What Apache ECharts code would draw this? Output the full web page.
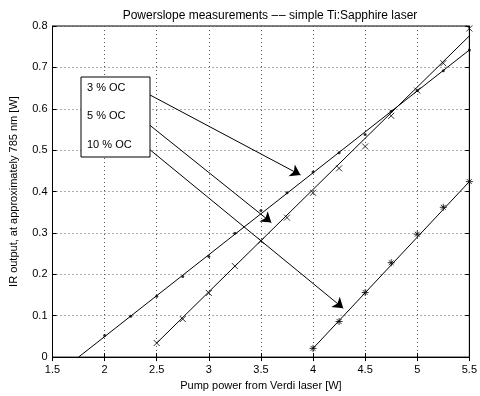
<!DOCTYPE html>
<html><head><meta charset="utf-8">
<script src="https://cdn.jsdelivr.net/npm/echarts@6/dist/echarts.min.js"></script>
<style>html,body{margin:0;padding:0;background:#fff}#c{width:480px;height:396px}</style>
</head><body><div id="c"></div>
<script>
// ---- data ----
const x3 = [2.0, 2.25, 2.5, 2.75, 3.0, 3.25, 3.5, 3.75, 4.0, 4.25, 4.5, 4.75, 5.0, 5.25, 5.5];
const y3 = [0.052, 0.099, 0.147, 0.195, 0.243, 0.299, 0.354, 0.397, 0.447, 0.494, 0.538, 0.594, 0.644, 0.692, 0.742];
const fit3 = [[1.75, 0.0], [5.5, 0.742]];

const x5 = [2.5, 2.75, 3.0, 3.25, 3.5, 3.75, 4.0, 4.25, 4.5, 4.75, 5.0, 5.25, 5.5];
const y5 = [0.034, 0.092, 0.155, 0.220, 0.281, 0.337, 0.397, 0.456, 0.509, 0.583, 0.644, 0.710, 0.794];
const fit5 = [[2.5, 0.034], [5.5, 0.776]];

const x10 = [4.0, 4.25, 4.5, 4.75, 5.0, 5.25, 5.5];
const y10 = [0.021, 0.086, 0.156, 0.228, 0.297, 0.362, 0.424];
const fit10 = [[4.0, 0.021], [5.5, 0.424]];

const xTicks = ['1.5', '2', '2.5', '3', '3.5', '4', '4.5', '5', '5.5'];
const yTicks = ['0', '0.1', '0.2', '0.3', '0.4', '0.5', '0.6', '0.7', '0.8'];

const labels = ['3 % OC', '5 % OC', '10 % OC'];
const arrows = [
  [[2.296, 0.652], [3.88, 0.440]],
  [[2.311, 0.585], [3.60, 0.325]],
  [[2.343, 0.520], [4.29, 0.118]]
];

// ---- chart ----
const FONT = 'Liberation Sans';
const chart = echarts.init(document.getElementById('c'));
const zip = (a, b) => a.map((v, i) => [v, b[i]]);
const xPath = 'path://M0,0L10,10M10,0L0,10';
const starPath = 'path://M5,0L5,10M0,5L10,5M1.5,1.5L8.5,8.5M8.5,1.5L1.5,8.5';
const txt = {color: '#000', fontFamily: FONT, fontSize: 11};

const lineSeries = (d) => ({
  type: 'line', data: d, symbol: 'none', silent: true, animation: false,
  lineStyle: {color: '#000', width: 1}, z: 3
});
const markerSeries = (d, sym, size, dot) => ({
  type: 'scatter', data: d, symbol: sym, symbolSize: size, silent: true, animation: false,
  itemStyle: dot ? {color: '#000'} : {color: 'transparent', borderColor: '#000', borderWidth: 1},
  z: 4
});

const option = {
  backgroundColor: '#fff',
  animation: false,
  title: {
    text: 'Powerslope measurements \u2013\u200a\u2013 simple Ti:Sapphire laser',
    left: 265, top: 5, textAlign: 'center',
    textStyle: {color: '#000', fontFamily: FONT, fontSize: 12, fontWeight: 'normal'}
  },
  grid: {left: 52.5, right: 2.5, top: 26, bottom: 35, show: true, borderColor: '#000', borderWidth: 1},
  xAxis: [{
    type: 'value', min: 1.5, max: 5.5, interval: 0.5,
    name: 'Pump power from Verdi laser [W]', nameLocation: 'middle', nameGap: 21,
    nameTextStyle: txt,
    axisLine: {show: true, lineStyle: {color: '#000'}},
    axisTick: {show: true, inside: true, length: 4, lineStyle: {color: '#000'}},
    axisLabel: Object.assign({margin: 7, formatter: (v, i) => xTicks[i]}, txt),
    splitLine: {show: true, lineStyle: {color: '#555', type: [1, 3], width: 1}}
  }, {
    type: 'value', min: 1.5, max: 5.5, interval: 0.5, position: 'top',
    axisLine: {show: true, lineStyle: {color: '#000'}},
    axisTick: {show: true, inside: true, length: 4, lineStyle: {color: '#000'}},
    axisLabel: {show: false}, splitLine: {show: false}
  }],
  yAxis: [{
    type: 'value', min: 0, max: 0.8, interval: 0.1,
    name: 'IR output, at approximately 785 nm [W]', nameLocation: 'middle', nameGap: 33,
    nameRotate: 90, nameTextStyle: txt,
    axisLine: {show: true, lineStyle: {color: '#000'}},
    axisTick: {show: true, inside: true, length: 4, lineStyle: {color: '#000'}},
    axisLabel: Object.assign({margin: 5, formatter: (v, i) => yTicks[i]}, txt),
    splitLine: {show: true, lineStyle: {color: '#555', type: [1, 3], width: 1}}
  }, {
    type: 'value', min: 0, max: 0.8, interval: 0.1, position: 'right',
    axisLine: {show: true, lineStyle: {color: '#000'}},
    axisTick: {show: true, inside: true, length: 4, lineStyle: {color: '#000'}},
    axisLabel: {show: false}, splitLine: {show: false}
  }],
  series: [
    Object.assign(lineSeries(fit3), {
      markLine: {
        silent: true, animation: false, symbol: ['none', 'arrow'], symbolSize: 10,
        label: {show: false},
        lineStyle: {color: '#000', width: 1, type: 'solid'},
        itemStyle: {color: '#000'},
        data: arrows.map(a => [{coord: a[0]}, {coord: a[1]}])
      }
    }),
    lineSeries(fit5),
    lineSeries(fit10),
    markerSeries(zip(x3, y3), 'circle', 3, true),
    markerSeries(zip(x5, y5), xPath, 6, false),
    markerSeries(zip(x10, y10), starPath, 7, false)
  ],
  graphic: [
    {type: 'rect', shape: {x: 81, y: 77, width: 69, height: 80},
     style: {fill: '#fff', stroke: '#000', lineWidth: 1}, z: 10},
    ...labels.map((t, i) => ({
      type: 'text', x: 87, y: [88, 116, 145][i],
      style: {text: t, fill: '#000', font: '11px "Liberation Sans"', verticalAlign: 'middle'}, z: 11
    }))
  ]
};
chart.setOption(option);
</script>
</body></html>
